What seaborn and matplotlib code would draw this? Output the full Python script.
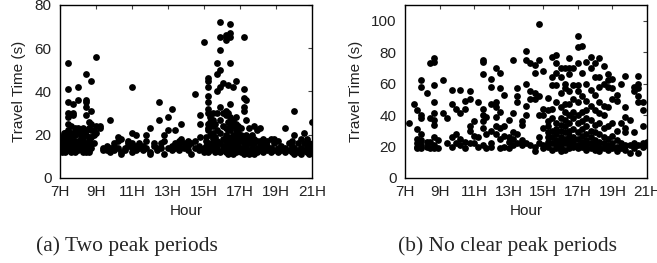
import matplotlib
matplotlib.use("Agg")
import matplotlib.pyplot as plt
import pandas as pd
import seaborn as sns

# (a) two peak periods: hour slot -> travel times seen at that slot
slots_a = [7.0, 7.1, 7.2, 7.3, 7.45, 7.6, 7.7, 7.85, 8.0, 8.15, 8.3, 8.45,
           8.6, 8.75, 8.9, 9.0, 9.2, 9.4, 9.6, 9.8, 10.0, 10.2, 10.4, 10.6,
           10.8, 11.0, 11.2, 11.4, 11.6, 11.8, 12.0, 12.2, 12.4, 12.5, 12.6,
           12.8, 13.0, 13.2, 13.4, 13.6, 13.7, 13.9, 14.1, 14.3, 14.5, 14.7,
           14.8, 15.0, 15.1, 15.25, 15.35, 15.5, 15.6, 15.75, 15.9, 16.05,
           16.2, 16.35, 16.45, 16.6, 16.75, 16.9, 17.05, 17.2, 17.35, 17.5,
           17.65, 17.8, 17.95, 18.1, 18.3, 18.5, 18.7, 18.9, 19.1, 19.3, 19.5,
           19.7, 19.9, 20.0, 20.2, 20.4, 20.55, 20.7, 20.85, 21.0]
times_a = [
    [13, 14, 15, 18], [12, 14, 16, 19], [13, 15, 17, 20, 21],
    [12, 14, 16, 18, 21], [13, 15, 17, 20, 22, 25, 28, 30, 35, 41, 53],
    [12, 14, 16, 19, 21, 24], [13, 15, 18, 21, 29, 30, 34],
    [12, 14, 16, 20, 23], [13, 15, 17, 21, 23, 36, 42], [14, 16, 19, 22],
    [12, 13, 15, 18, 21, 23], [12, 14, 16, 20, 22, 29, 33, 35, 36, 48],
    [12, 13, 15, 17, 19, 23, 26], [14, 16, 19, 22, 25, 31, 45],
    [16, 20, 22], [21, 24, 56], [23, 24], [13, 14], [13, 15], [12, 14, 27],
    [13, 15, 16], [14, 17, 19], [11, 12, 18], [13, 14], [15, 16, 17],
    [12, 14, 16, 21, 42], [13, 15, 20], [14, 16], [13, 15], [14, 17, 20],
    [11, 12, 23], [15, 16], [13, 14], [27, 35], [14, 16], [11, 17, 20],
    [14, 22, 28], [13, 15, 32], [14, 16, 22], [13, 15, 17], [18, 25],
    [14, 16], [13, 15, 17], [11, 16], [14, 17, 39], [13, 15], [19, 25, 29],
    [12, 14, 63], [13, 15, 17, 19],
    [12, 14, 16, 22, 23, 25, 30, 32, 35, 38, 42, 45, 46],
    [13, 15, 20, 24, 26, 28], [14, 16, 18, 21, 24, 27, 30], [12, 15, 19, 25],
    [13, 14, 17, 22, 30, 40, 48, 53],
    [12, 16, 21, 27, 33, 42, 50, 59, 65, 72], [13, 15, 18, 24, 30, 44],
    [12, 14, 17, 20, 23, 29, 31, 64, 65, 66],
    [11, 13, 16, 19, 22, 26, 30, 43],
    [12, 14, 18, 22, 25, 28, 34, 53, 65, 67, 71],
    [11, 13, 15, 17, 20, 24, 27, 42], [12, 14, 16, 19, 22, 25, 28, 45],
    [13, 15, 18, 21, 24], [12, 14, 17, 20, 23],
    [11, 13, 16, 19, 31, 33, 37, 41, 65], [12, 15, 18, 20, 27, 36],
    [11, 13, 16, 19, 23], [12, 14, 17, 20], [11, 13, 16, 18, 24],
    [12, 14, 17, 22], [13, 15, 17, 23], [12, 14, 16, 18], [13, 15, 17],
    [12, 14, 18], [13, 16, 18], [12, 14, 17], [13, 15], [12, 14, 23],
    [13, 16], [12, 15, 17], [11, 14, 20, 31], [12, 13, 16], [11, 14, 18],
    [13, 16, 21], [12, 15, 18], [11, 14, 16], [13, 15, 26]]

# (b) no clear peak periods
slots_b = [7.23, 7.5, 7.7, 7.95, 8.25, 8.45, 8.7, 8.9, 9.2, 9.45, 9.7, 9.95,
           10.2, 10.5, 10.75, 11.0, 11.25, 11.5, 11.7, 12.0, 12.25, 12.5,
           12.75, 13.0, 13.25, 13.5, 13.75, 14.0, 14.25, 14.5, 14.75, 15.0,
           15.25, 15.5, 15.75, 16.0, 16.25, 16.5, 16.75, 17.0, 17.25, 17.5,
           17.75, 18.0, 18.25, 18.5, 18.75, 19.0, 19.25, 19.5, 19.75, 20.0,
           20.25, 20.5, 20.75, 21.0]
times_b = [
    [35], [47], [43, 31, 25, 22, 20, 19], [62, 58, 40, 38, 28, 24, 21, 19],
    [54, 23, 20], [73, 38, 23, 19], [76, 74, 59, 48, 41, 37, 34, 26, 21, 19],
    [24, 19], [62, 41], [38, 22], [56, 47, 26, 20], [44, 28, 22],
    [56, 41, 25, 21], [49, 44, 23, 19], [55, 50, 33, 30, 22], [36, 27, 22],
    [48, 26, 20], [75, 74, 66, 44, 40, 36, 32, 21], [39, 28, 19],
    [63, 58, 47, 30, 22, 20], [70, 48, 45, 39, 33, 28],
    [67, 57, 42, 32, 25, 19], [53, 33, 27, 20], [37, 26, 23, 19],
    [75, 41, 29, 25, 21], [57, 52, 48, 28, 22], [36, 34, 24, 21],
    [81, 75, 60, 46, 40, 22], [73, 55, 50, 21], [72, 67, 54, 50, 20, 17],
    [98, 75, 52, 40, 26, 22], [68, 44, 40, 32, 21, 19],
    [51, 43, 36, 33, 29, 26, 23, 20], [77, 64, 59, 44, 38, 30, 26, 22, 18],
    [78, 73, 67, 59, 48, 35, 31, 28, 24, 21, 19],
    [70, 64, 54, 45, 38, 34, 30, 26, 23, 20, 17],
    [70, 60, 57, 47, 42, 37, 33, 29, 25, 22, 18],
    [76, 70, 66, 55, 47, 40, 35, 30, 27, 24, 21, 19],
    [70, 59, 50, 42, 38, 31, 26, 23, 20],
    [90, 83, 73, 59, 55, 48, 40, 35, 29, 25, 21, 19],
    [84, 67, 52, 42, 36, 31, 27, 23, 20],
    [74, 60, 49, 43, 38, 33, 28, 24, 21, 18],
    [77, 70, 56, 46, 37, 30, 26, 22, 19],
    [73, 64, 53, 43, 34, 29, 24, 21, 18],
    [76, 64, 58, 48, 41, 35, 28, 23, 20, 17],
    [71, 60, 46, 40, 32, 26, 22, 19], [66, 62, 58, 45, 33, 25, 21, 18],
    [63, 57, 50, 35, 27, 22, 19], [53, 49, 30, 24, 20, 17],
    [60, 35, 22, 19], [65, 45, 39, 32, 29, 21, 18], [37, 21, 16],
    [58, 55, 29, 22, 19], [65, 60, 57, 52, 48, 21, 16],
    [48, 43, 33, 22, 20], [23, 22, 21]]

hour_ticks = [7, 9, 11, 13, 15, 17, 19, 21]
hour_labels = ["7H", "9H", "11H", "13H", "15H", "17H", "19H", "21H"]
captions = ["(a) Two peak periods", "(b) No clear peak periods"]


def to_frame(slots, times):
    """Expand slot/value lists into a long table."""
    rows = [(h, t) for h, ts in zip(slots, times) for t in ts]
    return pd.DataFrame(rows, columns=["Hour", "Travel Time (s)"])


def draw_panel(ax, df, ylim, yticks):
    sns.scatterplot(data=df, x="Hour", y="Travel Time (s)", ax=ax,
                    color="black", s=24, linewidth=0, legend=False)
    ax.set_xlim(7, 21)
    ax.set_ylim(*ylim)
    ax.set_xticks(hour_ticks)
    ax.set_xticklabels(hour_labels)
    ax.set_yticks(yticks)
    ax.tick_params(direction="in", length=3, width=0.8, top=True,
                   right=True, labelsize=11, color="#444444",
                   labelcolor="#222222")
    ax.tick_params(axis="x", pad=5)
    ax.tick_params(axis="y", pad=6)
    for sp in ax.spines.values():
        sp.set_linewidth(1.0)
        sp.set_color("black")
    ax.set_xlabel("Hour", fontsize=11, labelpad=4, color="#222222")
    ax.set_ylabel("Travel Time (s)", fontsize=11, labelpad=6,
                  color="#222222")


sns.set_style("white")
plt.rcParams["font.family"] = ["Liberation Sans", "DejaVu Sans"]

fig = plt.figure(figsize=(6.57, 2.63), dpi=100)
ax_a = fig.add_axes([0.0913, 0.3232, 0.3836, 0.658])
ax_b = fig.add_axes([0.6164, 0.3232, 0.3683, 0.658])

draw_panel(ax_a, to_frame(slots_a, times_a), (0, 80), [0, 20, 40, 60, 80])
draw_panel(ax_b, to_frame(slots_b, times_b), (0, 110),
           [0, 20, 40, 60, 80, 100])

for xc, cap in zip([0.193, 0.773], captions):
    fig.text(xc, 0.065, cap, ha="center", va="center", fontsize=15.5,
             family=["Liberation Serif", "DejaVu Serif"])

fig.savefig("out.png", dpi=100)
